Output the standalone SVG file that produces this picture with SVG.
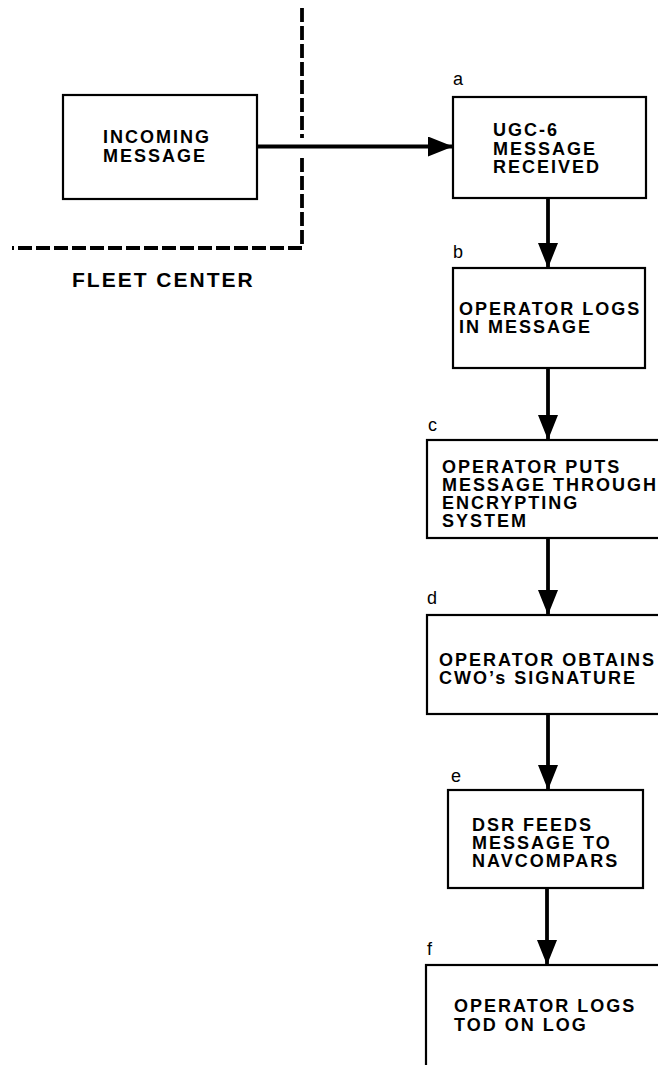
<svg xmlns="http://www.w3.org/2000/svg" width="658" height="1065" viewBox="0 0 658 1065">
<style>
.box{fill:#fff;stroke:#000;stroke-width:2.2}
.t{font-family:"Liberation Sans",Arial,sans-serif;font-weight:bold;font-size:18px;letter-spacing:2px;fill:#000}
.lbl{font-family:"Liberation Sans",Arial,sans-serif;font-size:18px;fill:#000}
.ttl{font-family:"Liberation Sans",Arial,sans-serif;font-weight:bold;font-size:21px;letter-spacing:2px;fill:#000}
.dash{fill:none;stroke:#000;stroke-width:3.8;stroke-dasharray:14 4}
.line{fill:none;stroke:#000;stroke-width:3.8}
</style>
<defs>
<marker id="ah" viewBox="0 0 25 20" refX="25" refY="10" markerWidth="25" markerHeight="20" markerUnits="userSpaceOnUse" orient="auto">
<path d="M0 0 L25 10 L0 20 Z" fill="#000"/>
</marker>
</defs>
<rect width="658" height="1065" fill="#fff"/>
<g id="boundary">
<path class="dash" d="M302 8 V138"/>
<path class="dash" d="M302 158 V248 H12"/>
<text class="ttl" x="72" y="287">FLEET CENTER</text>
</g>
<g id="connectors">
<path class="line" d="M257 146.5 H453" marker-end="url(#ah)"/>
<path class="line" d="M548 198 V268" marker-end="url(#ah)"/>
<path class="line" d="M548 368 V440" marker-end="url(#ah)"/>
<path class="line" d="M548 538 V615" marker-end="url(#ah)"/>
<path class="line" d="M548 714 V790" marker-end="url(#ah)"/>
<path class="line" d="M547 888 V965" marker-end="url(#ah)"/>
</g>
<g id="incoming">
<rect class="box" x="63" y="95" width="194" height="104"/>
<text class="t" x="103" y="143">INCOMING</text>
<text class="t" x="103" y="162">MESSAGE</text>
</g>
<g id="node-a">
<text class="lbl" x="453" y="85">a</text>
<rect class="box" x="453" y="97" width="193" height="101"/>
<text class="t" x="493" y="136">UGC-6</text>
<text class="t" x="493" y="155">MESSAGE</text>
<text class="t" x="493" y="173">RECEIVED</text>
</g>
<g id="node-b">
<text class="lbl" x="453" y="258">b</text>
<rect class="box" x="453" y="268" width="192" height="100"/>
<text class="t" x="459" y="315">OPERATOR LOGS</text>
<text class="t" x="459" y="333">IN MESSAGE</text>
</g>
<g id="node-c">
<text class="lbl" x="428" y="431">c</text>
<rect class="box" x="427" y="440" width="260" height="98"/>
<text class="t" x="442" y="473">OPERATOR PUTS</text>
<text class="t" x="442" y="491">MESSAGE THROUGH</text>
<text class="t" x="442" y="509">ENCRYPTING</text>
<text class="t" x="442" y="527">SYSTEM</text>
</g>
<g id="node-d">
<text class="lbl" x="427" y="604">d</text>
<rect class="box" x="427" y="615" width="260" height="99"/>
<text class="t" x="439" y="666">OPERATOR OBTAINS</text>
<text class="t" x="439" y="684">CWO’s SIGNATURE</text>
</g>
<g id="node-e">
<text class="lbl" x="451" y="782">e</text>
<rect class="box" x="448" y="790" width="195" height="98"/>
<text class="t" x="472" y="831">DSR FEEDS</text>
<text class="t" x="472" y="849">MESSAGE TO</text>
<text class="t" x="472" y="867">NAVCOMPARS</text>
</g>
<g id="node-f">
<text class="lbl" x="427" y="955">f</text>
<rect class="box" x="426" y="965" width="260" height="140"/>
<text class="t" x="454" y="1012">OPERATOR LOGS</text>
<text class="t" x="454" y="1031">TOD ON LOG</text>
</g>
</svg>
